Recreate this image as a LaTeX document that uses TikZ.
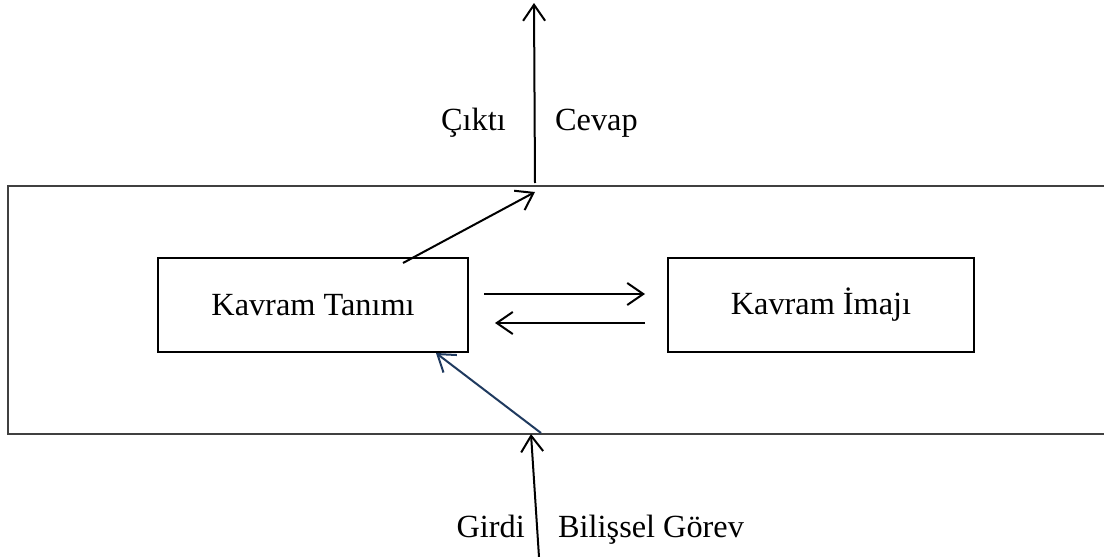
\documentclass[tikz,border=0pt]{standalone}
\usepackage{fontspec}
\setmainfont{Liberation Serif}
\usetikzlibrary{arrows.meta}
\definecolor{navy}{HTML}{1F3A5F}
\definecolor{framegray}{HTML}{404040}
\tikzset{
  conbox/.style={draw=black, line width=1.8pt, minimum height=94pt, inner sep=0pt},
  lbl/.style={font=\fontsize{32.3}{36}\selectfont, inner sep=0pt},
  arr/.style={line width=2pt, -{Straight Barb[length=16pt,width=22pt]}},
}
\begin{document}
\begin{tikzpicture}[x=1pt,y=-1pt]
\useasboundingbox (0,0) rectangle (1104,557);
\fill[white] (0,0) rectangle (1104,557);
\clip (0,0) rectangle (1104,557);
% outer frame
\node[draw=framegray, line width=2.2pt, minimum width=1110pt, minimum height=248pt, inner sep=0pt, anchor=north west] (frame) at (7,185) {};
% concept boxes
\node[conbox, minimum width=310pt, lbl] (ktan) at (313,305) {Kavram Tanımı};
\node[conbox, minimum width=306pt, lbl] (kimg) at (821,305) {Kavram İmajı};
% coordinates
\coordinate (outTop) at (534,3);
\coordinate (outBase) at (535,183);
\coordinate (dStart) at (403,263);
\coordinate (dTip) at (535,192);
\coordinate (inBase) at (539,557);
\coordinate (inTip) at (531,434);
\coordinate (bStart) at (541,433);
\coordinate (bTip) at (436,353);
\coordinate (r1) at (484,294);
\coordinate (r2) at (645,294);
\coordinate (l1) at (645,323);
\coordinate (l2) at (495,323);
% arrows
\draw[arr] (outBase) -- (outTop);
\draw[arr] (dStart) -- (dTip);
\draw[arr] (inBase) -- (inTip);
\draw[arr, draw=navy] (bStart) -- (bTip);
\draw[arr] (r1) -- (r2);
\draw[arr] (l1) -- (l2);
% labels
\node[lbl, anchor=base east] (cikti) at (506,130) {Çıktı};
\node[lbl, anchor=base west] (cevap) at (555,130) {Cevap};
\node[lbl, anchor=base east] (girdi) at (525,537) {Girdi};
\node[lbl, anchor=base west] (gorev) at (558,537) {Bilişsel Görev};
\end{tikzpicture}
\end{document}
